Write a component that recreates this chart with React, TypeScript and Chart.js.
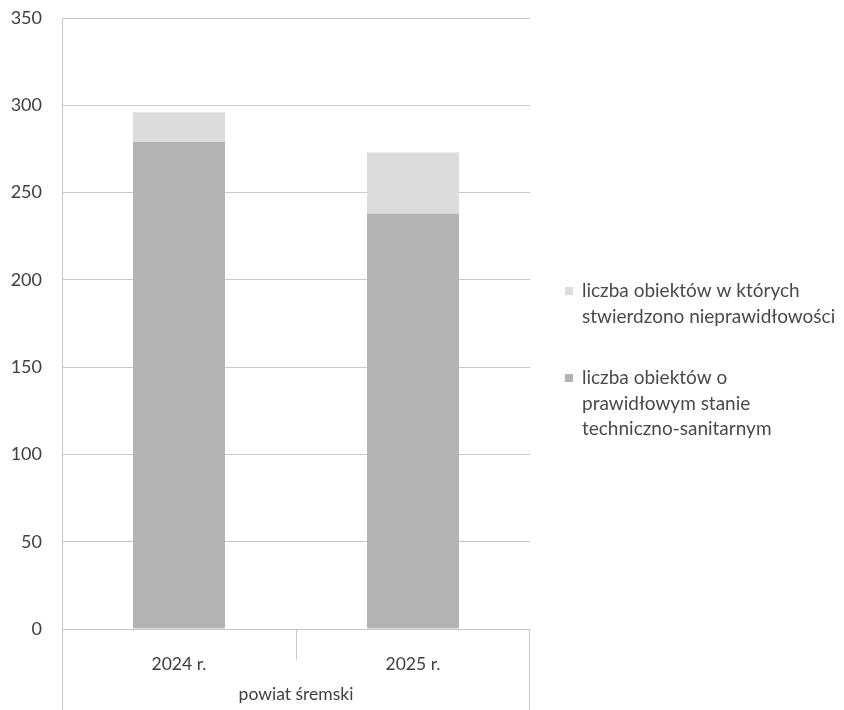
import React, { useEffect, useRef } from "react";
import { Chart, registerables } from "chart.js";

Chart.register(...registerables);

const categories = ["2024 r.", "2025 r."];
const groupLabel = "powiat śremski";
const seriesIrregularLabel = ["liczba obiektów w których", "stwierdzono nieprawidłowości"];
const seriesRegularLabel = ["liczba obiektów o", "prawidłowym stanie", "techniczno-sanitarnym"];
const regularValues = [279, 238];
const irregularValues = [17, 35];
const yMax = 350;
const yStep = 50;

const FONT = "Lato, 'Open Sans', sans-serif";
const TEXT = "#404040";
const LINE = "#c8c8c8";

const framePlugin = {
  id: "frame",
  afterDraw(chart: any) {
    const { ctx, chartArea } = chart;
    const xs = chart.scales.x;
    const n = categories.length;
    const w = (xs.right - xs.left) / n;
    ctx.save();
    ctx.strokeStyle = LINE;
    ctx.lineWidth = 1;
    ctx.beginPath();
    ctx.moveTo(Math.round(xs.left) + 0.5, chartArea.top);
    ctx.lineTo(Math.round(xs.left) + 0.5, chart.height);
    ctx.moveTo(Math.round(xs.right) - 0.5, chartArea.bottom);
    ctx.lineTo(Math.round(xs.right) - 0.5, chart.height);
    for (let i = 1; i < n; i++) {
      const x = Math.round(xs.left + w * i) + 0.5;
      ctx.moveTo(x, chartArea.bottom);
      ctx.lineTo(x, chartArea.bottom + 31);
    }
    ctx.stroke();

    const items = [
      { lines: chart.data.datasets[1].label, color: chart.data.datasets[1].backgroundColor, y: 291 },
      { lines: chart.data.datasets[0].label, color: chart.data.datasets[0].backgroundColor, y: 378 },
    ];
    ctx.font = `19px ${FONT}`;
    ctx.textBaseline = "middle";
    ctx.textAlign = "left";
    for (const it of items) {
      ctx.fillStyle = it.color;
      ctx.fillRect(565, it.y - 4, 8, 8);
      ctx.fillStyle = "#4a4a4a";
      (it.lines as string[]).forEach((t, i) => ctx.fillText(t, 582, it.y + i * 25.5));
    }
    ctx.restore();
  },
};

export default function App() {
  const ref = useRef<HTMLCanvasElement>(null);
  useEffect(() => {
    const chart = new Chart(ref.current!, {
      type: "bar",
      data: {
        labels: categories,
        datasets: [
          {
            label: seriesRegularLabel as any,
            data: regularValues,
            backgroundColor: "#b3b3b3",
            categoryPercentage: 1,
            barPercentage: 0.393,
          },
          {
            label: seriesIrregularLabel as any,
            data: irregularValues,
            backgroundColor: "#dcdcdc",
            categoryPercentage: 1,
            barPercentage: 0.393,
          },
        ],
      },
      options: {
        animation: false,
        responsive: false,
        layout: { padding: { top: 6, right: 314, left: 0, bottom: 0 } },
        plugins: { legend: { display: false }, tooltip: { enabled: false } },
        scales: {
          x: {
            stacked: true,
            grid: { display: false },
            border: { display: false },
            ticks: { color: TEXT, font: { family: FONT, size: 17.5 }, padding: 17 },
            title: {
              display: true,
              text: groupLabel,
              color: TEXT,
              font: { family: FONT, size: 17.5 },
              padding: { top: 8, bottom: 5 },
            },
            afterFit(scale: any) {
              scale.height = 81;
            },
          },
          y: {
            stacked: true,
            min: 0,
            max: yMax,
            ticks: { stepSize: yStep, color: TEXT, font: { family: FONT, size: 18 }, padding: 20 },
            grid: { color: LINE, drawTicks: false },
            border: { display: false },
            afterFit(scale: any) {
              scale.width = 62;
              scale.paddingTop = 18;
              scale.paddingBottom = 0;
            },
          },
        },
      },
      plugins: [framePlugin],
    });
    return () => chart.destroy();
  }, []);
  return (
    <div style={{ position: "fixed", left: 0, top: 0, width: 844, height: 710, background: "#fff" }}>
      <canvas ref={ref} width={844} height={710} style={{ width: 844, height: 710 }} />
    </div>
  );
}
